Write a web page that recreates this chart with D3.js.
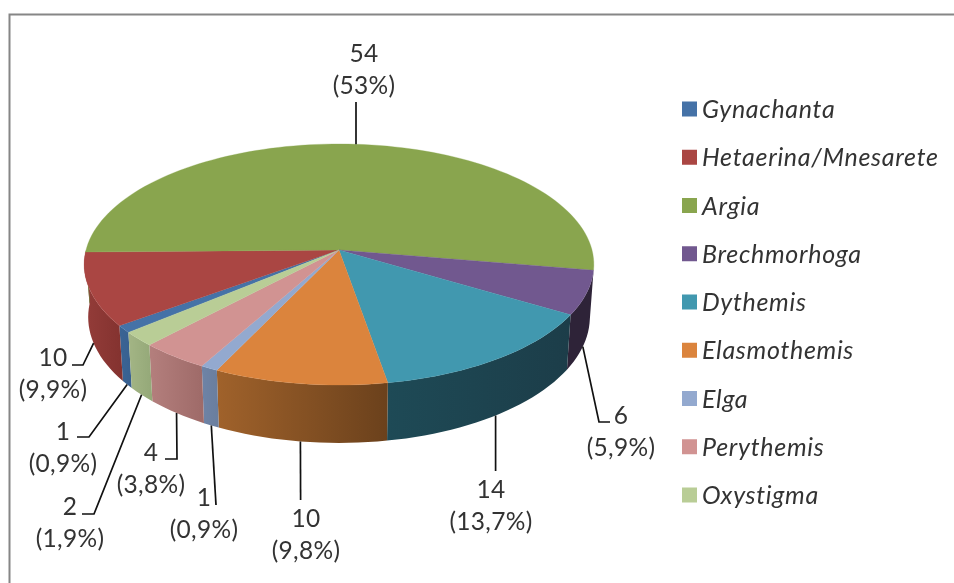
<!DOCTYPE html>
<html>
<head>
<meta charset="utf-8">
<script src="https://cdn.jsdelivr.net/npm/d3@7"></script>
<style>
	html, body { margin: 0; padding: 0; background: #fff; }
	svg { display: block; filter: blur(0.4px); }
	text { font-family: Lato, "Open Sans", sans-serif; fill: #333; }
</style>
</head>
<body>
<div id="pie-chart"></div>
<script>
const genera = ["Gynachanta", "Hetaerina/Mnesarete", "Argia", "Brechmorhoga", "Dythemis", "Elasmothemis", "Elga", "Perythemis", "Oxystigma"];
const counts = [1, 10, 54, 6, 14, 10, 1, 4, 2];
const percentLabels = ["(0,9%)", "(9,9%)", "(53%)", "(5,9%)", "(13,7%)", "(9,8%)", "(0,9%)", "(3,8%)", "(1,9%)"];
const topColors = ["#4572A7", "#AA4643", "#89A54E", "#71588F", "#4198AF", "#DB843D", "#93A9CF", "#D19392", "#B9CD96"];
const wallLeft = ["#3a6494", "#943c39", "#6d843e", "#2e2338", "#1e4a56", "#a0622b", "#6e83a6", "#b47f7d", "#a3b585"];
const wallRight = ["#386090", "#83322f", "#6d843e", "#2e2338", "#1c3d49", "#6b411c", "#6a7e9e", "#9e6a68", "#94a878"];

const svgWidth = 954;
const svgHeight = 583;

// leader elbows and label centres, same order as genera
const leaderBends = [
	[[89, 437], [77, 437]],
	[[83, 365], [72, 365]],
	[[356, 102]],
	[[599, 422], [610, 422]],
	[[495.6, 471]],
	[[300.6, 500]],
	[[216, 505]],
	[[177, 459], [165, 459]],
	[[94, 514], [82, 514]],
];
const labelCentres = [[63, 448], [53, 374], [364, 70], [621, 432], [491, 506], [306, 535], [204, 514], [151, 469], [70, 523]];

const rad = (deg) => (deg * Math.PI) / 180;

// tilted disc with a bit of perspective, angle 0 is away from the viewer
const topPlane = { cx: 339, cy: 250, rx: 253, ry: 118.8 };
const bottomPlane = { cx: 339, cy: 302, rx: 249, ry: 124 };
const persp = 0.1203;
const project = (plane, angle) => {
	const u = Math.sin(angle);
	const v = -Math.cos(angle);
	const w = 1 - persp * v;
	return [plane.cx + (plane.rx * u) / w, plane.cy + (plane.ry * v) / w];
};
const rim = (plane, a0, a1) => {
	const n = Math.max(2, Math.ceil((a1 - a0) / rad(2)));
	return d3.range(n + 1).map((i) => project(plane, a0 + ((a1 - a0) * i) / n));
};

const svg = d3
	.select("#pie-chart")
	.append("svg")
	.attr("viewBox", `0 0 ${svgWidth} ${svgHeight}`)
	.attr("width", svgWidth)
	.attr("height", svgHeight);

// frame runs off the right and bottom of the picture
svg
	.append("rect")
	.attr("x", 9.5)
	.attr("y", 14.5)
	.attr("width", svgWidth + 20)
	.attr("height", svgHeight + 20)
	.attr("fill", "#fff")
	.attr("stroke", "#868686")
	.attr("stroke-width", 2);

const slices = d3
	.pie()
	.sort(null)
	.startAngle(rad(230.2))
	.endAngle(rad(590.2))(counts);

const line = d3.line();
const defs = svg.append("defs");
const wallsLayer = svg.append("g").attr("class", "walls");
const topLayer = svg.append("g").attr("class", "top");
const leadersLayer = svg.append("g").attr("class", "leaders");
const labelsLayer = svg.append("g").attr("class", "labels");
const legendLayer = svg.append("g").attr("class", "legend");

// the walls, only those facing the viewer
slices.forEach((d, i) => {
	// angles run past 360, bring them back before clamping to the front half
	const turn = d.startAngle >= 2 * Math.PI ? 2 * Math.PI : 0;
	const a0 = Math.max(d.startAngle - turn, rad(90));
	const a1 = Math.min(d.endAngle - turn, rad(270));
	if (a1 <= a0) return;
	const upper = rim(topPlane, a0, a1);
	const lower = rim(bottomPlane, a0, a1).reverse();
	const xs = upper.concat(lower).map((p) => p[0]);
	const id = `wall-${i}`;
	const grad = defs
		.append("linearGradient")
		.attr("id", id)
		.attr("gradientUnits", "userSpaceOnUse")
		.attr("x1", d3.min(xs))
		.attr("x2", d3.max(xs))
		.attr("y1", 0)
		.attr("y2", 0);
	grad.append("stop").attr("offset", 0).attr("stop-color", wallLeft[i]);
	grad.append("stop").attr("offset", 1).attr("stop-color", wallRight[i]);
	wallsLayer
		.append("path")
		.attr("d", line(upper.concat(lower)) + "Z")
		.attr("fill", `url(#${id})`);
});

// top face
slices.forEach((d, i) => {
	const pts = [[topPlane.cx, topPlane.cy]].concat(rim(topPlane, d.startAngle, d.endAngle));
	topLayer
		.append("path")
		.attr("d", line(pts) + "Z")
		.attr("fill", topColors[i])
		.attr("stroke", topColors[i])
		.attr("stroke-width", 0.3);
});

// leaders start on the outer edge at the middle of the slice
slices.forEach((d, i) => {
	const mid = (d.startAngle + d.endAngle) / 2;
	const back = Math.cos(mid) > 0;
	const start = project(back ? topPlane : bottomPlane, mid);
	leadersLayer
		.append("path")
		.attr("d", line([start].concat(leaderBends[i])))
		.attr("fill", "none")
		.attr("stroke", "#111")
		.attr("stroke-width", 1.7);
});

slices.forEach((d, i) => {
	const [x, y] = labelCentres[i];
	const label = labelsLayer
		.append("text")
		.attr("text-anchor", "middle")
		.attr("font-size", 24.5)
		.attr("letter-spacing", 0.3);
	label.append("tspan").attr("x", x).attr("y", y - 8).text(counts[i]);
	label.append("tspan").attr("x", x).attr("y", y + 24).text(percentLabels[i]);
});

const legendY = d3
	.scalePoint()
	.domain(genera)
	.range([109, 495]);

const legendRows = legendLayer
	.selectAll("g")
	.data(genera)
	.enter()
	.append("g")
	.attr("transform", (d) => `translate(682, ${legendY(d)})`);

legendRows
	.append("rect")
	.attr("y", -7.5)
	.attr("width", 15)
	.attr("height", 15)
	.attr("fill", (d, i) => topColors[i]);

legendRows
	.append("text")
	.attr("x", 20)
	.attr("y", 9)
	.attr("font-size", 25)
	.attr("letter-spacing", 0.7)
	.attr("font-style", "italic")
	.text((d) => d);
</script>
</body>
</html>
